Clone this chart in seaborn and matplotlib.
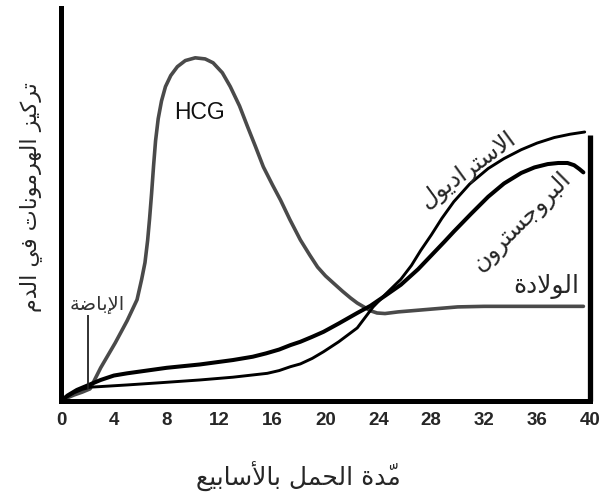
import numpy as np
import pandas as pd
import seaborn as sns
import matplotlib
matplotlib.use("Agg")
import matplotlib.pyplot as plt

# values (weeks, arbitrary concentration units)
hcg_weeks = [0, 0.5, 1.0, 1.6, 2.2, 3.0, 4.1, 5.0, 5.75, 6.1, 6.35, 6.55, 6.7, 6.85, 7.0,
             7.15, 7.35, 7.6, 7.9, 8.3, 8.8, 9.4, 10.15, 10.9, 11.5, 12.2, 12.8, 13.5, 14.1,
             14.7, 15.3, 16.0, 16.6, 17.3, 18.1, 18.8, 19.4, 20.0, 20.6, 21.3, 21.9, 22.4,
             22.9, 23.4, 23.9, 24.5, 25.5, 27.0, 28.0, 30.0, 32.0, 34.0, 37.0, 39.5]
hcg_level = [0, 0.06, 0.11, 0.16, 0.22, 0.6, 1.05, 1.45, 1.83, 2.2, 2.5, 2.9, 3.3, 3.75, 4.25,
             4.7, 5.1, 5.42, 5.68, 5.88, 6.04, 6.15, 6.2, 6.18, 6.11, 5.93, 5.68, 5.33, 4.96,
             4.6, 4.23, 3.9, 3.63, 3.28, 2.91, 2.64, 2.42, 2.26, 2.13, 1.98, 1.86, 1.77,
             1.70, 1.63, 1.59, 1.58, 1.61, 1.64, 1.66, 1.70, 1.71, 1.71, 1.71, 1.71]

prog_weeks = [0, 0.5, 1.2, 2.2, 3.0, 4.0, 5.0, 6.5, 8.0, 10.5, 13.0, 14.5, 15.5, 16.5, 17.35,
              18.1, 19.0, 19.85, 21.0, 22.4, 23.4, 24.5, 25.7, 27.0, 28.2, 29.0, 29.7, 31.0,
              32.3, 33.5, 34.8, 35.8, 36.8, 37.6, 38.3, 38.8, 39.2, 39.5]
prog_level = [0, 0.1, 0.2, 0.3, 0.38, 0.46, 0.5, 0.55, 0.6, 0.66, 0.74, 0.8, 0.86, 0.93, 1.01,
              1.07, 1.16, 1.25, 1.4, 1.59, 1.72, 1.9, 2.1, 2.38, 2.68, 2.88, 3.06, 3.38,
              3.69, 3.93, 4.12, 4.22, 4.28, 4.30, 4.30, 4.26, 4.19, 4.13]

estr_weeks = [0, 0.5, 1.0, 1.6, 2.2, 2.95, 5.0, 7.5, 10.5, 13.0, 15.6, 16.5, 17.35, 18.1, 19.0,
              19.85, 21.0, 22.4, 23.6, 24.5, 25.7, 26.5, 27.2, 28.0, 28.8, 29.7, 30.9, 32.3,
              33.5, 34.8, 36.0, 37.3, 38.5, 39.6]
estr_level = [0, 0.08, 0.15, 0.21, 0.25, 0.26, 0.29, 0.33, 0.38, 0.43, 0.5, 0.55, 0.62, 0.67,
              0.77, 0.89, 1.07, 1.32, 1.7, 1.92, 2.2, 2.45, 2.72, 3.0, 3.3, 3.6, 3.92, 4.2,
              4.38, 4.54, 4.66, 4.76, 4.82, 4.86]

ovulation_week = 2.05
ovulation_span = [0.22, 1.55]
birth_week = 40
birth_height = 4.81

x_ticks = list(range(0, 41, 4))
y_ticks = [1, 2, 3, 4, 5, 6]

# labels (logical Arabic text)
ylabel_text = "تركيز الهرمونات في الدم"
xlabel_text = "مدّة الحمل بالأسابيع"
ovulation_text = "الإباضة"
estr_text = "الاستراديول"
prog_text = "البروجسترون"
birth_text = "الولادة"

# --- tiny Arabic shaper: matplotlib draws no contextual forms or RTL order
FORMS = {
    'ا': ('\uFE8D', '\uFE8E', None, None),
    'أ': ('\uFE83', '\uFE84', None, None),
    'إ': ('\uFE87', '\uFE88', None, None),
    'ب': ('\uFE8F', '\uFE90', '\uFE91', '\uFE92'),
    'ة': ('\uFE93', '\uFE94', None, None),
    'ت': ('\uFE95', '\uFE96', '\uFE97', '\uFE98'),
    'ج': ('\uFE9D', '\uFE9E', '\uFE9F', '\uFEA0'),
    'ح': ('\uFEA1', '\uFEA2', '\uFEA3', '\uFEA4'),
    'د': ('\uFEA9', '\uFEAA', None, None),
    'ر': ('\uFEAD', '\uFEAE', None, None),
    'ز': ('\uFEAF', '\uFEB0', None, None),
    'س': ('\uFEB1', '\uFEB2', '\uFEB3', '\uFEB4'),
    'ض': ('\uFEBD', '\uFEBE', '\uFEBF', '\uFEC0'),
    'ع': ('\uFEC9', '\uFECA', '\uFECB', '\uFECC'),
    'ف': ('\uFED1', '\uFED2', '\uFED3', '\uFED4'),
    'ك': ('\uFED9', '\uFEDA', '\uFEDB', '\uFEDC'),
    'ل': ('\uFEDD', '\uFEDE', '\uFEDF', '\uFEE0'),
    'م': ('\uFEE1', '\uFEE2', '\uFEE3', '\uFEE4'),
    'ن': ('\uFEE5', '\uFEE6', '\uFEE7', '\uFEE8'),
    'ه': ('\uFEE9', '\uFEEA', '\uFEEB', '\uFEEC'),
    'و': ('\uFEED', '\uFEEE', None, None),
    'ي': ('\uFEF1', '\uFEF2', '\uFEF3', '\uFEF4'),
}
LAM_ALEF = {'ا': ('\uFEFB', '\uFEFC'), 'أ': ('\uFEF7', '\uFEF8'), 'إ': ('\uFEF9', '\uFEFA')}
MARKS = {'\u0651'}


def shape(text):
    # group into clusters (letter + marks), merge lam-alef
    clusters = []
    for ch in text:
        if ch in MARKS and clusters:
            clusters[-1][1] += ch
        elif ch in LAM_ALEF and clusters and clusters[-1][0] == 'ل' and not clusters[-1][1]:
            clusters[-1][0] = 'ل' + ch
        else:
            clusters.append([ch, ''])
    out = []
    for i, (base, marks) in enumerate(clusters):
        prev = clusters[i - 1][0] if i > 0 else None
        nxt = clusters[i + 1][0] if i + 1 < len(clusters) else None
        prev_joins = prev in FORMS and FORMS[prev][2] is not None
        if len(base) == 2:
            glyph = LAM_ALEF[base[1]][1 if prev_joins else 0]
        elif base in FORMS:
            f = FORMS[base]
            next_joins = f[2] is not None and (nxt in FORMS or (nxt is not None and len(nxt) == 2))
            if prev_joins and next_joins:
                glyph = f[3]
            elif prev_joins:
                glyph = f[1]
            elif next_joins:
                glyph = f[2]
            else:
                glyph = f[0]
        else:
            glyph = base
        out.append(glyph + marks)
    return ''.join(reversed(out))


sns.set_style("white")
plt.rcParams['font.family'] = ['DejaVu Sans']

fig = plt.figure(figsize=(6, 4.93), dpi=100)
ax = fig.add_axes([61 / 600, 1 - 401 / 493, 529 / 600, 393 / 493])

hcg = pd.DataFrame({"week": hcg_weeks, "level": hcg_level})
prog = pd.DataFrame({"week": prog_weeks, "level": prog_level})
estr = pd.DataFrame({"week": estr_weeks, "level": estr_level})

sns.lineplot(data=hcg, x="week", y="level", sort=False, estimator=None, ax=ax,
             color="#4a4a4a", lw=2.6, solid_capstyle="round", solid_joinstyle="round")
sns.lineplot(data=estr, x="week", y="level", sort=False, estimator=None, ax=ax,
             color="black", lw=2.1, solid_capstyle="round", solid_joinstyle="round")
sns.lineplot(data=prog, x="week", y="level", sort=False, estimator=None, ax=ax,
             color="black", lw=2.9, solid_capstyle="round", solid_joinstyle="round")

ax.vlines(ovulation_week, ovulation_span[0], ovulation_span[1], color="#222222", lw=1.3)
ax.vlines(birth_week, 0, birth_height, color="black", lw=3.8, clip_on=False)

ax.set_xlim(0, 40)
ax.set_ylim(0, 7.1)
ax.set_xticks(x_ticks)
ax.set_yticks(y_ticks)
ax.set_yticklabels([])
for lab in ax.get_xticklabels():
    lab.set_fontfamily("Liberation Sans")
    lab.set_fontweight("bold")
    lab.set_fontsize(13.5)
ax.tick_params(axis="x", direction="out", length=5, width=2.4, pad=3, color="black")
ax.tick_params(axis="y", direction="out", length=4, width=2.2, color="black")

for side in ["top", "right"]:
    ax.spines[side].set_visible(False)
for side in ["left", "bottom"]:
    ax.spines[side].set_linewidth(3.6)
    ax.spines[side].set_color("black")
    ax.spines[side].set_capstyle("projecting")
ax.set_xlabel("")
ax.set_ylabel("")

fig.text(298 / 600, 1 - 476 / 493, shape(xlabel_text), ha="center", va="center", fontsize=18)
fig.text(31 / 600, 1 - 197 / 493, shape(ylabel_text), ha="center", va="center",
         rotation=90, fontsize=16)

ax.text(10.5, 5.22, "HCG", ha="center", va="center", fontsize=16.5,
        fontfamily="Liberation Sans", color="#111111")
ax.text(2.77, 1.74, shape(ovulation_text), ha="center", va="center", fontsize=14,
        color="#333333")
ax.text(30.8, 4.18, shape(estr_text), ha="center", va="center", fontsize=17,
        rotation=36, rotation_mode="anchor")
ax.text(34.8, 3.25, shape(prog_text), ha="center", va="center", fontsize=17,
        rotation=45, rotation_mode="anchor")
ax.text(36.7, 2.06, shape(birth_text), ha="center", va="center", fontsize=18)

fig.savefig("out.png", dpi=100)
